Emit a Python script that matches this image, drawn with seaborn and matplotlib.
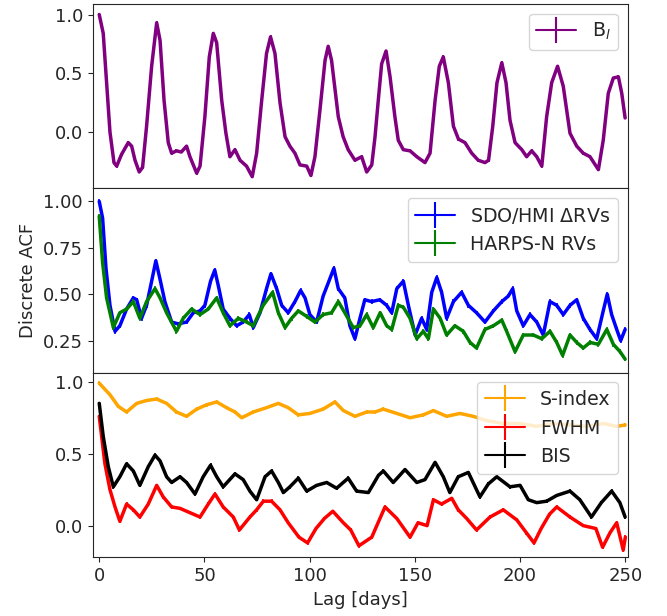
import numpy as np
import pandas as pd
import matplotlib
matplotlib.use("Agg")
import matplotlib.pyplot as plt
from matplotlib.lines import Line2D
import seaborn as sns

# values (lag in days, discrete ACF)
bl_lag = [0, 1.9, 3.5, 5.1, 7.0, 8.3, 10.6, 13.8, 15.4, 17.0, 19.0, 20.6, 22.5, 24.9, 27.3, 28.9,
          30.8, 32.8, 34.4, 36.7, 39.0, 41.5, 43.1, 46.3, 47.9, 50.2, 52.3, 54.2, 55.8, 58.2, 60.2,
          62.1, 64.5, 66.9, 70.0, 72.7, 74.8, 77.2, 79.5, 81.4, 83.5, 85.9, 88.3, 90.6, 93.0, 95.4,
          98.6, 100.6, 102.5, 104.9, 107.3, 108.8, 110.4, 113.6, 115.9, 118.3, 121.5, 124.7, 127.1,
          129.5, 131.0, 132.5, 134.2, 136.3, 138.2, 140.5, 142.1, 144.5, 147.7, 150.9, 154.8, 157.2,
          159.6, 161.6, 163.5, 165.9, 168.3, 170.7, 173.8, 177.0, 180.1, 183.3, 185.0, 187.0, 189.0,
          191.3, 193.3, 195.2, 197.6, 200.8, 203.1, 205.5, 207.9, 210.3, 212.6, 215.0, 217.8, 220.5,
          223.7, 226.9, 230.0, 233.2, 237.2, 239.5, 241.9, 244.3, 246.7, 248.3, 249.9]
bl_acf = [1.00, 0.84, 0.42, 0.00, -0.26, -0.29, -0.19, -0.09, -0.12, -0.24, -0.34, -0.30, 0.05, 0.56,
          0.93, 0.78, 0.27, -0.09, -0.18, -0.16, -0.17, -0.12, -0.21, -0.35, -0.29, 0.13, 0.64, 0.84,
          0.76, 0.27, -0.01, -0.21, -0.15, -0.24, -0.29, -0.38, -0.18, 0.27, 0.67, 0.81, 0.67, 0.25,
          -0.04, -0.12, -0.18, -0.28, -0.29, -0.37, -0.21, 0.19, 0.61, 0.73, 0.61, 0.13, -0.04, -0.15,
          -0.24, -0.21, -0.34, -0.28, -0.05, 0.25, 0.58, 0.69, 0.47, 0.13, -0.07, -0.15, -0.16, -0.21,
          -0.26, -0.18, 0.27, 0.56, 0.64, 0.42, 0.05, -0.06, -0.09, -0.18, -0.24, -0.26, -0.24, 0.05,
          0.42, 0.59, 0.42, 0.10, -0.09, -0.15, -0.21, -0.16, -0.21, -0.29, 0.13, 0.42, 0.56, 0.39,
          -0.01, -0.12, -0.18, -0.21, -0.32, -0.07, 0.33, 0.46, 0.47, 0.33, 0.12]

sdo_lag = [0, 1.6, 3.2, 5.1, 7.5, 9.8, 13.0, 16.2, 17.8, 20.1, 22.5, 24.9, 26.9, 28.9, 31.2, 34.4,
           37.5, 41.5, 44.7, 47.9, 50.2, 52.9, 54.9, 56.5, 58.9, 62.1, 65.3, 68.4, 71.3, 73.2, 76.4,
           79.5, 81.6, 84.3, 86.7, 89.8, 93.0, 95.7, 97.8, 100.1, 103.3, 106.4, 108.8, 111.5, 113.6,
           116.7, 119.1, 121.5, 123.9, 126.2, 129.4, 133.3, 136.6, 139.0, 141.4, 144.5, 146.9, 150.1,
           153.2, 155.6, 158.0, 160.4, 162.7, 165.1, 168.3, 172.2, 175.4, 179.3, 183.3, 187.3, 191.3,
           194.4, 196.5, 198.4, 201.5, 204.7, 207.9, 211.0, 214.2, 217.4, 220.5, 223.7, 226.9, 230.0,
           233.2, 236.4, 239.5, 241.4, 243.5, 245.9, 247.8, 249.9]
sdo_acf = [1.00, 0.91, 0.64, 0.44, 0.30, 0.33, 0.42, 0.48, 0.47, 0.37, 0.44, 0.57, 0.68, 0.58, 0.46,
           0.35, 0.34, 0.35, 0.40, 0.41, 0.44, 0.57, 0.63, 0.55, 0.42, 0.37, 0.33, 0.35, 0.39, 0.32,
           0.40, 0.53, 0.61, 0.53, 0.44, 0.40, 0.46, 0.52, 0.48, 0.39, 0.35, 0.49, 0.56, 0.64, 0.53,
           0.48, 0.33, 0.26, 0.37, 0.47, 0.46, 0.47, 0.44, 0.40, 0.53, 0.57, 0.44, 0.28, 0.37, 0.31,
           0.51, 0.59, 0.51, 0.37, 0.46, 0.51, 0.44, 0.40, 0.35, 0.41, 0.46, 0.49, 0.53, 0.41, 0.33,
           0.39, 0.35, 0.28, 0.46, 0.44, 0.39, 0.44, 0.47, 0.37, 0.31, 0.26, 0.41, 0.50, 0.39, 0.31,
           0.25, 0.31]

harps_lag = [0, 1.6, 3.5, 6.7, 9.8, 13.0, 16.2, 19.3, 22.5, 26.5, 28.9, 32.0, 36.7, 39.9, 43.9, 47.9,
             51.8, 55.8, 58.9, 62.1, 66.1, 70.0, 73.2, 77.9, 82.4, 85.1, 88.3, 91.4, 94.6, 98.6,
             102.5, 106.4, 110.4, 113.6, 116.7, 120.7, 123.9, 127.1, 130.2, 133.5, 136.6, 139.0,
             142.1, 144.5, 147.7, 150.9, 154.0, 156.4, 158.8, 162.0, 165.1, 169.0, 173.0, 176.2,
             179.3, 183.3, 187.3, 191.3, 193.6, 197.6, 201.5, 206.3, 210.3, 214.2, 217.4, 220.2,
             223.7, 226.9, 230.0, 233.2, 237.2, 241.2, 244.3, 247.5, 249.9]
harps_acf = [0.92, 0.67, 0.48, 0.32, 0.40, 0.42, 0.46, 0.37, 0.46, 0.53, 0.48, 0.40, 0.30, 0.37, 0.42,
             0.39, 0.42, 0.48, 0.40, 0.33, 0.37, 0.35, 0.33, 0.44, 0.51, 0.40, 0.32, 0.37, 0.41, 0.38,
             0.35, 0.39, 0.40, 0.46, 0.40, 0.32, 0.33, 0.39, 0.32, 0.40, 0.33, 0.31, 0.44, 0.43, 0.37,
             0.26, 0.30, 0.26, 0.42, 0.37, 0.28, 0.33, 0.30, 0.24, 0.21, 0.31, 0.33, 0.36, 0.30, 0.19,
             0.28, 0.28, 0.26, 0.30, 0.24, 0.17, 0.28, 0.24, 0.21, 0.24, 0.23, 0.31, 0.23, 0.19, 0.15]

sindex_lag = [0, 5.1, 9.0, 13.0, 17.8, 22.5, 27.3, 32.0, 36.7, 41.5, 46.3, 51.0, 55.8, 60.5, 64.5,
              67.7, 73.2, 79.5, 85.1, 89.8, 94.6, 100.1, 106.4, 112.0, 116.0, 121.5, 127.1, 131.0,
              135.0, 141.4, 147.7, 154.0, 158.8, 165.1, 171.4, 177.7, 184.1, 192.0, 199.9, 207.9,
              215.8, 223.7, 231.6, 239.5, 245.9, 249.9]
sindex_acf = [0.99, 0.91, 0.83, 0.79, 0.85, 0.87, 0.88, 0.85, 0.79, 0.76, 0.81, 0.84, 0.86, 0.82, 0.79,
              0.75, 0.79, 0.82, 0.85, 0.82, 0.77, 0.78, 0.81, 0.86, 0.80, 0.76, 0.79, 0.79, 0.81, 0.78,
              0.75, 0.77, 0.80, 0.76, 0.78, 0.76, 0.73, 0.71, 0.71, 0.69, 0.71, 0.70, 0.69, 0.71, 0.69,
              0.70]

fwhm_lag = [0, 2.7, 5.1, 7.5, 9.8, 13.0, 16.2, 19.3, 23.3, 27.3, 30.4, 34.4, 38.4, 43.1, 47.9, 51.8,
            55.0, 58.9, 63.7, 66.6, 71.6, 74.8, 78.0, 81.9, 85.9, 89.8, 94.9, 99.0, 103.0, 107.0,
            111.0, 116.0, 119.5, 123.4, 129.5, 135.8, 141.4, 147.7, 151.5, 155.8, 158.8, 162.7,
            167.5, 170.6, 174.6, 179.3, 185.7, 192.0, 198.4, 203.0, 206.6, 210.0, 214.0, 217.4,
            223.7, 230.0, 236.0, 239.2, 242.7, 245.9, 249.0, 250.0]
fwhm_acf = [0.76, 0.43, 0.25, 0.13, 0.03, 0.15, 0.11, 0.06, 0.15, 0.28, 0.20, 0.13, 0.12, 0.09, 0.06,
            0.15, 0.22, 0.13, 0.06, -0.03, 0.06, 0.11, 0.17, 0.17, 0.11, 0.02, -0.08, -0.12, -0.02,
            0.05, 0.10, 0.02, -0.03, -0.14, -0.08, 0.13, 0.05, -0.08, 0.02, 0.00, 0.18, 0.15, 0.19,
            0.11, 0.05, -0.03, 0.06, 0.11, 0.04, -0.05, -0.12, -0.02, 0.08, 0.13, 0.06, 0.00, -0.02,
            -0.15, -0.05, 0.02, -0.17, -0.08]

bis_lag = [0, 1.9, 4.3, 6.7, 9.8, 13.0, 16.2, 19.3, 23.3, 26.5, 28.9, 32.0, 34.4, 38.4, 41.5, 45.5,
           49.4, 52.9, 55.8, 58.9, 64.5, 68.4, 71.6, 74.8, 78.8, 81.9, 85.1, 87.5, 90.6, 94.6, 98.6,
           103.3, 108.1, 112.8, 118.3, 122.3, 127.9, 132.7, 135.0, 139.7, 145.3, 150.9, 154.8,
           159.6, 163.5, 166.6, 170.6, 175.4, 180.9, 184.9, 188.9, 195.2, 200.0, 203.9, 207.9,
           212.6, 217.4, 223.7, 228.4, 233.9, 238.6, 243.5, 247.4, 249.9]
bis_acf = [0.85, 0.62, 0.41, 0.27, 0.34, 0.43, 0.38, 0.28, 0.41, 0.49, 0.45, 0.34, 0.30, 0.34, 0.30,
           0.22, 0.34, 0.42, 0.34, 0.27, 0.36, 0.32, 0.24, 0.18, 0.34, 0.38, 0.30, 0.23, 0.27, 0.33,
           0.24, 0.28, 0.30, 0.26, 0.33, 0.24, 0.23, 0.35, 0.38, 0.30, 0.39, 0.30, 0.32, 0.44, 0.34,
           0.23, 0.34, 0.37, 0.20, 0.29, 0.34, 0.27, 0.28, 0.18, 0.16, 0.17, 0.21, 0.24, 0.18, 0.06,
           0.16, 0.24, 0.16, 0.06]

acf_err = 0.012

panels = [
    [(bl_lag, bl_acf, "purple", r"B$_l$")],
    [(sdo_lag, sdo_acf, "blue", r"SDO/HMI $\Delta$RVs"),
     (harps_lag, harps_acf, "green", "HARPS-N RVs")],
    [(sindex_lag, sindex_acf, "orange", "S-index"),
     (fwhm_lag, fwhm_acf, "red", "FWHM"),
     (bis_lag, bis_acf, "black", "BIS")],
]
ylims = [(-0.48, 1.09), (0.076, 1.07), (-0.22, 1.062)]
yticks = [[0.0, 0.5, 1.0], [0.25, 0.5, 0.75, 1.0], [0.0, 0.5, 1.0]]

sns.set_style("ticks")
plt.rcParams.update({"font.size": 13, "axes.edgecolor": "0.15", "font.family": ["DejaVu Sans"]})

fig, axes = plt.subplots(3, 1, sharex=True, figsize=(6.67, 6.16), dpi=100)
fig.subplots_adjust(left=0.139, right=0.941, top=0.9935, bottom=0.0953, hspace=0)

for ax, series, ylim, ticks in zip(axes, panels, ylims, yticks):
    handles = []
    labels = []
    for lag, acf, color, label in series:
        df = pd.DataFrame({"lag": lag, "acf": acf})
        sns.lineplot(data=df, x="lag", y="acf", color=color, lw=2.5, ax=ax, legend=False)
        ax.errorbar(df["lag"], df["acf"], yerr=acf_err, fmt="none", ecolor=color, elinewidth=1.2)
        handles.append((Line2D([], [], color=color, lw=1.5),
                        Line2D([], [], color=color, marker="|", ms=19, mew=1.5, ls="none")))
        labels.append(label)
    ax.legend(handles, labels, loc="upper right", fontsize=13.7, handlelength=2.1,
              framealpha=0.8, edgecolor="0.8")
    ax.set_ylim(ylim)
    ax.set_yticks(ticks)
    ax.set_ylabel("")
    ax.set_xlabel("")
    ax.tick_params(labelsize=13)

axes[0].set_yticklabels(["0.0", "0.5", "1.0"])
axes[2].set_yticklabels(["0.0", "0.5", "1.0"])
axes[1].set_ylabel("Discrete ACF", fontsize=13)
axes[2].set_xlim(-3.1, 251.1)
axes[2].set_xticks([0, 50, 100, 150, 200, 250])
axes[2].set_xlabel("Lag [days]", fontsize=13)

fig.savefig("out.png", dpi=100)
